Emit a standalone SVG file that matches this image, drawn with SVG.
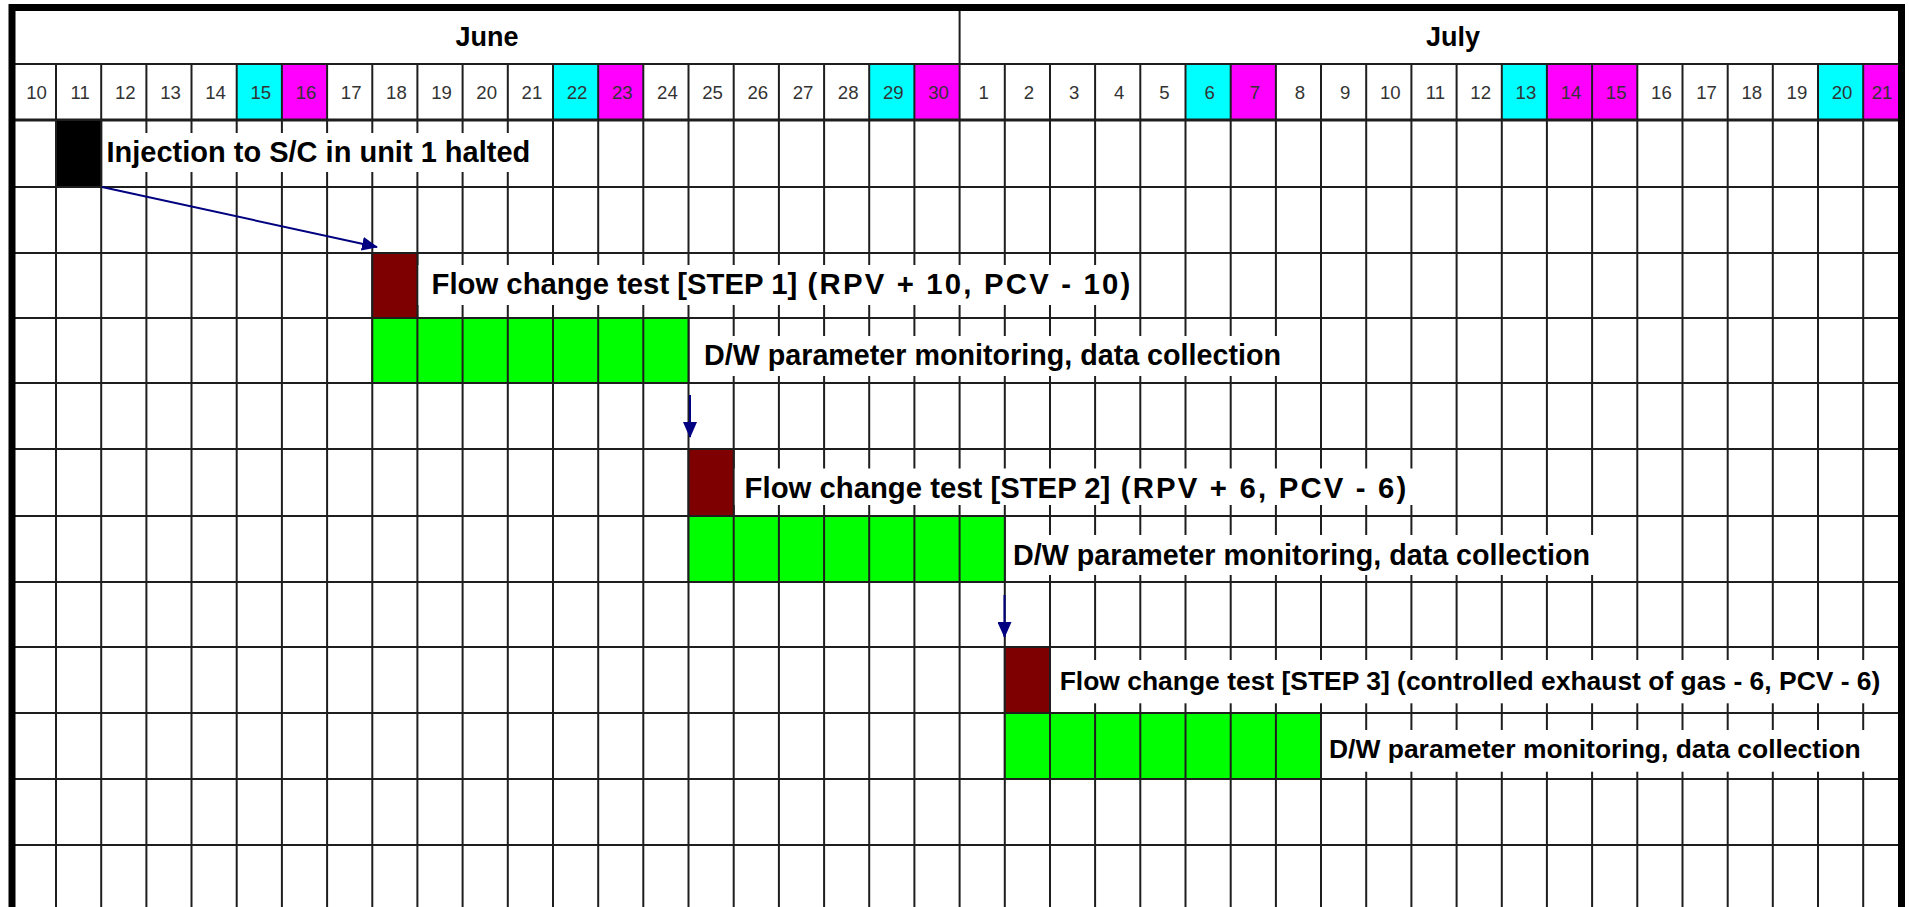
<svg xmlns="http://www.w3.org/2000/svg" width="1910" height="907" viewBox="0 0 1910 907">
<defs>
<style>
.grid{stroke:#1e1e1e;stroke-width:2;fill:none}
.day{font-family:"Liberation Sans",Arial,sans-serif;font-size:18.6px;fill:#333;text-anchor:middle}
.month{font-family:"Liberation Sans",Arial,sans-serif;font-size:27px;font-weight:bold;fill:#000;text-anchor:middle}
.lbl{font-family:"Liberation Sans",Arial,sans-serif;font-weight:bold;fill:#000}
.ls{letter-spacing:2.2px}
.cy{fill:#00ffff}
.mg{fill:#ff00ff}
.bar{stroke:#1e1e1e;stroke-width:2}
.blk{fill:#000}
.brn{fill:#7f0000}
.grn{fill:#00ff00}
.tb{fill:#fff}
.conn{stroke:#000080;stroke-width:2;fill:none}
</style>
<marker id="ah" markerUnits="userSpaceOnUse" markerWidth="16" markerHeight="14" refX="15" refY="7" orient="auto"><path d="M0,0 L16,7 L0,14 z" fill="#000080"/></marker>
</defs>
<rect x="0" y="0" width="1910" height="907" fill="#fff"/>
<g id="header">
<rect class="cy" x="236.7" y="64" width="45.2" height="56"/>
<rect class="mg" x="281.9" y="64" width="45.2" height="56"/>
<rect class="cy" x="553" y="64" width="45.2" height="56"/>
<rect class="mg" x="598.2" y="64" width="45.2" height="56"/>
<rect class="cy" x="869.2" y="64" width="45.2" height="56"/>
<rect class="mg" x="914.4" y="64" width="45.2" height="56"/>
<rect class="cy" x="1185.5" y="64" width="45.2" height="56"/>
<rect class="mg" x="1230.7" y="64" width="45.2" height="56"/>
<rect class="cy" x="1501.8" y="64" width="45.2" height="56"/>
<rect class="mg" x="1546.9" y="64" width="90.4" height="56"/>
<rect class="cy" x="1818" y="64" width="45.2" height="56"/>
<rect class="mg" x="1863.2" y="64" width="40" height="56"/>
<text class="month" x="487" y="46">June</text>
<text class="month" x="1453" y="46">July</text>
<g class="day">
<text x="36.5" y="99.3">10</text><text x="80.1" y="99.3">11</text><text x="125.3" y="99.3">12</text><text x="170.5" y="99.3">13</text><text x="215.6" y="99.3">14</text><text x="260.8" y="99.3">15</text><text x="306" y="99.3">16</text><text x="351.2" y="99.3">17</text><text x="396.4" y="99.3">18</text><text x="441.5" y="99.3">19</text><text x="486.7" y="99.3">20</text><text x="531.9" y="99.3">21</text><text x="577.1" y="99.3">22</text><text x="622.3" y="99.3">23</text><text x="667.4" y="99.3">24</text><text x="712.6" y="99.3">25</text><text x="757.8" y="99.3">26</text><text x="803" y="99.3">27</text><text x="848.2" y="99.3">28</text><text x="893.3" y="99.3">29</text><text x="938.5" y="99.3">30</text>
<text x="983.7" y="99.3">1</text><text x="1028.9" y="99.3">2</text><text x="1074.1" y="99.3">3</text><text x="1119.2" y="99.3">4</text><text x="1164.4" y="99.3">5</text><text x="1209.6" y="99.3">6</text><text x="1254.8" y="99.3">7</text><text x="1300" y="99.3">8</text><text x="1345.1" y="99.3">9</text><text x="1390.3" y="99.3">10</text><text x="1435.5" y="99.3">11</text><text x="1480.7" y="99.3">12</text><text x="1525.9" y="99.3">13</text><text x="1571" y="99.3">14</text><text x="1616.2" y="99.3">15</text><text x="1661.4" y="99.3">16</text><text x="1706.6" y="99.3">17</text><text x="1751.8" y="99.3">18</text><text x="1796.9" y="99.3">19</text><text x="1842.1" y="99.3">20</text><text x="1882" y="99.3">21</text>
</g>
</g>
<g id="grid">
<path class="grid" d="M959.6,11V907M56,64V907M101.2,64V907M146.4,64V907M191.5,64V907M236.7,64V907M281.9,64V907M327.1,64V907M372.3,64V907M417.4,64V907M462.6,64V907M507.8,64V907M553,64V907M598.2,64V907M643.3,64V907M688.5,64V907M733.7,64V907M778.9,64V907M824.1,64V907M869.2,64V907M914.4,64V907M1004.8,64V907M1050,64V907M1095.1,64V907M1140.3,64V907M1185.5,64V907M1230.7,64V907M1275.9,64V907M1321,64V907M1366.2,64V907M1411.4,64V907M1456.6,64V907M1501.8,64V907M1546.9,64V907M1592.1,64V907M1637.3,64V907M1682.5,64V907M1727.7,64V907M1772.8,64V907M1818,64V907M1863.2,64V907"/>
<path class="grid" d="M12,64H1901M12,187H1901M12,253H1901M12,318H1901M12,383H1901M12,449H1901M12,516H1901M12,582H1901M12,647H1901M12,713H1901M12,779H1901M12,845H1901"/>
<path class="grid" style="stroke-width:3" d="M12,120H1901"/>
</g>
<g id="node-injection">
<rect class="bar blk" x="56" y="120" width="45.2" height="67"/>
<rect class="tb" x="103" y="133" width="436" height="39"/>
<text class="lbl" x="106.5" y="161.7" style="font-size:29px">Injection to S/C in unit 1 halted</text>
</g>
<g id="node-step1">
<rect class="bar brn" x="372.3" y="253" width="45.1" height="65"/>
<rect class="tb" x="418.5" y="265" width="719" height="40"/>
<text class="lbl" x="431.5" y="294" style="font-size:29.3px">Flow change test [STEP 1]<tspan class="ls"> (RPV + 10, PCV - 10)</tspan></text>
</g>
<g id="node-monitor1">
<rect class="bar grn" x="372.3" y="318" width="316.2" height="65"/>
<path class="grid" d="M417.4,318V383M462.6,318V383M507.8,318V383M553,318V383M598.2,318V383M643.3,318V383"/>
<rect class="tb" x="690" y="336" width="598" height="40"/>
<text class="lbl" x="704" y="365" style="font-size:28.7px">D/W parameter monitoring, data collection</text>
</g>
<g id="node-step2">
<rect class="bar brn" x="688.5" y="449" width="45.2" height="67"/>
<rect class="tb" x="734.7" y="468.5" width="680" height="36.5"/>
<text class="lbl" x="744.6" y="498.3" style="font-size:29.3px">Flow change test [STEP 2]<tspan class="ls"> (RPV + 6, PCV - 6)</tspan></text>
</g>
<g id="node-monitor2">
<rect class="bar grn" x="688.5" y="516" width="316.3" height="66"/>
<path class="grid" d="M733.7,516V582M778.9,516V582M824.1,516V582M869.2,516V582M914.4,516V582M959.6,516V582"/>
<rect class="tb" x="1006" y="535" width="593" height="40"/>
<text class="lbl" x="1013" y="565" style="font-size:28.7px">D/W parameter monitoring, data collection</text>
</g>
<g id="node-step3">
<rect class="bar brn" x="1004.8" y="647" width="45.2" height="66"/>
<rect class="tb" x="1051" y="660" width="837" height="43.3"/>
<text class="lbl" x="1059.7" y="690" style="font-size:26.45px">Flow change test [STEP 3] (controlled exhaust of gas - 6, PCV - 6)</text>
</g>
<g id="node-monitor3">
<rect class="bar grn" x="1004.8" y="713" width="316.2" height="66"/>
<path class="grid" d="M1050,713V779M1095.1,713V779M1140.3,713V779M1185.5,713V779M1230.7,713V779M1275.9,713V779"/>
<rect class="tb" x="1322" y="730" width="545" height="41.7"/>
<text class="lbl" x="1329" y="758" style="font-size:26.45px">D/W parameter monitoring, data collection</text>
</g>
<g id="connectors">
<line class="conn" x1="102" y1="187" x2="377" y2="247" marker-end="url(#ah)"/>
<line class="conn" x1="690" y1="395" x2="690" y2="437" marker-end="url(#ah)"/>
<line class="conn" x1="1004.5" y1="595" x2="1004.5" y2="637" marker-end="url(#ah)"/>
</g>
<g id="border">
<path d="M12,907V7.5H1901.5V907" fill="none" stroke="#000" stroke-width="7"/>
</g>
</svg>
